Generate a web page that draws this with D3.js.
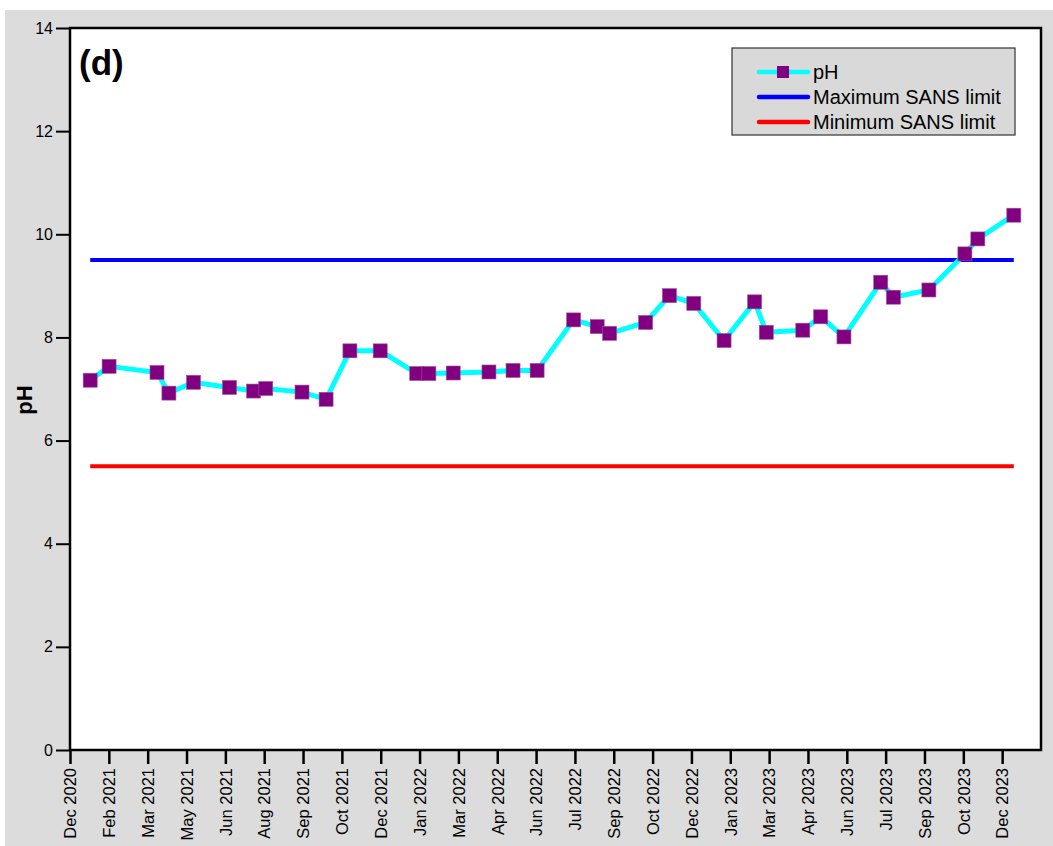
<!DOCTYPE html>
<html>
<head>
<meta charset="utf-8">
<script src="https://cdn.jsdelivr.net/npm/d3@7"></script>
<style>
  body { margin: 0; background: #fff; }
  text { font-family: "Liberation Sans", Arial, sans-serif; }
</style>
</head>
<body>
<svg id="chart" width="1053" height="846"></svg>
<script>
// Months since Dec 2020 for each sample
const sampleMonths = [0.78, 1.51, 3.36, 3.82, 4.77, 6.16, 7.09, 7.56, 8.96, 9.89, 10.81, 11.98,
  13.39, 13.86, 14.80, 16.18, 17.11, 18.04, 19.45, 20.36, 20.84, 22.23, 23.15, 24.09,
  25.26, 26.44, 26.89, 28.30, 28.99, 29.89, 31.31, 31.80, 33.17, 34.56, 35.06, 36.45];
const phValues = [7.17, 7.44, 7.32, 6.92, 7.13, 7.03, 6.96, 7.01, 6.94, 6.80, 7.74, 7.74,
  7.30, 7.30, 7.31, 7.33, 7.36, 7.36, 8.34, 8.21, 8.08, 8.29, 8.81, 8.66,
  7.94, 8.69, 8.10, 8.14, 8.40, 8.01, 9.07, 8.78, 8.92, 9.62, 9.91, 10.37];
const maxLimit = 9.5;
const minLimit = 5.5;
const xTickLabels = ["Dec 2020", "Feb 2021", "Mar 2021", "May 2021", "Jun 2021", "Aug 2021", "Sep 2021",
  "Oct 2021", "Dec 2021", "Jan 2022", "Mar 2022", "Apr 2022", "Jun 2022", "Jul 2022", "Sep 2022",
  "Oct 2022", "Dec 2022", "Jan 2023", "Mar 2023", "Apr 2023", "Jun 2023", "Jul 2023", "Sep 2023",
  "Oct 2023", "Dec 2023"];
const xTickStep = 1.5; // months between ticks
const yTicks = [0, 2, 4, 6, 8, 10, 12, 14];
const legendItems = ["pH", "Maximum SANS limit", "Minimum SANS limit"];

const svg = d3.select("#chart");
const L = 70, R = 1041, T = 28, B = 750;

svg.append("rect").attr("x", 5).attr("y", 10).attr("width", 1048).attr("height", 836).attr("fill", "#dcdcdc");
svg.append("rect").attr("x", L).attr("y", T).attr("width", R - L).attr("height", B - T)
  .attr("fill", "#ffffff");

const x = d3.scaleLinear().domain([0, xTickStep * xTickLabels.length]).range([L, R]);
const y = d3.scaleLinear().domain([0, 14]).range([B, T]);

const tickVals = xTickLabels.map((d, i) => i * xTickStep);

// x axis
const xAxis = svg.append("g").attr("transform", `translate(0,${B})`)
  .call(d3.axisBottom(x).tickValues(tickVals).tickFormat((d, i) => xTickLabels[i]).tickSize(14).tickSizeOuter(0));
xAxis.select(".domain").remove();
xAxis.selectAll(".tick line").attr("stroke", "#000").attr("stroke-width", 2.5);
xAxis.selectAll(".tick text")
  .attr("font-size", 16.5).attr("fill", "#000")
  .attr("transform", "rotate(-90)")
  .attr("text-anchor", "end")
  .attr("x", -18).attr("y", 0).attr("dy", "0.35em");

// y axis
const yAxis = svg.append("g").attr("transform", `translate(${L},0)`)
  .call(d3.axisLeft(y).tickValues(yTicks).tickSize(14).tickSizeOuter(0).tickPadding(3));
yAxis.select(".domain").remove();
yAxis.selectAll(".tick line").attr("stroke", "#000").attr("stroke-width", 2);
yAxis.selectAll(".tick text").attr("font-size", 16).attr("fill", "#000");

// frame
svg.append("rect").attr("x", L).attr("y", T).attr("width", R - L).attr("height", B - T)
  .attr("fill", "none").attr("stroke", "#000").attr("stroke-width", 2.5);

// limits
const xMin = d3.min(sampleMonths), xMax = d3.max(sampleMonths);
svg.append("line").attr("x1", x(xMin)).attr("x2", x(xMax)).attr("y1", y(maxLimit)).attr("y2", y(maxLimit))
  .attr("stroke", "#0000ff").attr("stroke-width", 4);
svg.append("line").attr("x1", x(xMin)).attr("x2", x(xMax)).attr("y1", y(minLimit)).attr("y2", y(minLimit))
  .attr("stroke", "#ff0000").attr("stroke-width", 4);

// pH series
const pts = sampleMonths.map((m, i) => [m, phValues[i]]);
svg.append("path").datum(pts)
  .attr("d", d3.line().x(d => x(d[0])).y(d => y(d[1])))
  .attr("fill", "none").attr("stroke", "#00ffff").attr("stroke-width", 5);
svg.append("g").selectAll("rect").data(pts).join("rect")
  .attr("x", d => x(d[0]) - 7).attr("y", d => y(d[1]) - 7)
  .attr("width", 14).attr("height", 14)
  .attr("fill", "#800080").attr("stroke", "#a050a0").attr("stroke-width", 0.6);

// panel label
svg.append("text").attr("x", 79).attr("y", 75).attr("font-size", 35).attr("font-weight", "bold")
  .attr("fill", "#000").text("(d)");

// y label
svg.append("text").attr("transform", `translate(32,400) rotate(-90)`)
  .attr("text-anchor", "middle").attr("font-size", 22).attr("font-weight", "bold")
  .attr("fill", "#000").text("pH");

// legend
const lg = svg.append("g");
lg.append("rect").attr("x", 732).attr("y", 48).attr("width", 283).attr("height", 87)
  .attr("fill", "#d9d9d9").attr("stroke", "#333").attr("stroke-width", 1.2);
const legColors = ["#00ffff", "#0000ff", "#ff0000"];
legendItems.forEach((t, i) => {
  const yy = 72 + i * 25;
  lg.append("line").attr("x1", 759).attr("x2", 808).attr("y1", yy).attr("y2", yy)
    .attr("stroke", legColors[i]).attr("stroke-width", 4.5).attr("stroke-linecap", "round");
  if (i === 0) {
    lg.append("rect").attr("x", 783 - 6).attr("y", yy - 6).attr("width", 12).attr("height", 12)
      .attr("fill", "#800080");
  }
  lg.append("text").attr("x", 813).attr("y", yy).attr("dy", "0.35em").attr("font-size", 20)
    .attr("fill", "#000").text(t);
});
</script>
</body>
</html>
